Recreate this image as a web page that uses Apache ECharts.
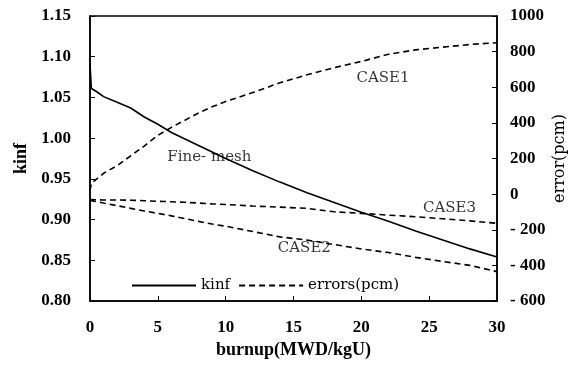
<!DOCTYPE html>
<html>
<head>
<meta charset="utf-8">
<script src="https://cdn.jsdelivr.net/npm/echarts@6/dist/echarts.min.js"></script>
<style>
  html, body { margin: 0; padding: 0; background: #fff; }
  #chart { width: 571px; height: 367px; }
</style>
</head>
<body>
<div id="chart"></div>
<script>
// burnup points (MWD/kgU)
const burnup = [0, 0.1, 0.5, 1, 2, 3, 4, 5, 6, 7, 8, 9, 10, 12, 14, 16, 18, 20, 22, 24, 26, 28, 30];
// fine-mesh kinf
const kinf = [1.092, 1.061, 1.057, 1.051, 1.044, 1.037, 1.026, 1.017, 1.007, 0.999, 0.991, 0.983, 0.975,
  0.960, 0.946, 0.933, 0.921, 0.909, 0.898, 0.886, 0.875, 0.864, 0.854];
// errors (pcm)
const case1 = [20, 60, 85, 117, 160, 215, 270, 330, 375, 415, 455, 490, 520,
  570, 625, 670, 710, 745, 785, 810, 825, 840, 850];
const case2 = [-35, -40, -42, -50, -65, -80, -95, -108, -122, -138, -153, -168, -180,
  -210, -240, -258, -283, -308, -328, -355, -378, -400, -435];
const case3 = [-30, -30, -32, -33, -33, -34, -37, -40, -43, -46, -50, -55, -58,
  -67, -73, -80, -99, -108, -118, -127, -138, -150, -164];
// curve labels: [burnup, value, text]
const errLabels = [[21.6, 652, "CASE1"], [26.5, -78, "CASE3"], [15.8, -302, "CASE2"]];
const kinfLabels = [[8.8, 0.977, "Fine- mesh"]];

const tickFont = "Liberation Serif";
const textFont = "DejaVu Serif";
const pair = (ys) => burnup.map((x, i) => [x, ys[i]]);

const chart = echarts.init(document.getElementById("chart"));

const errLine = (data) => ({
  name: "errors(pcm)",
  type: "line",
  yAxisIndex: 1,
  data: pair(data),
  symbol: "none",
  lineStyle: { color: "#000", width: 1.6, type: [6, 4] },
  itemStyle: { color: "#000" },
  silent: true,
});

const textSeries = (data, axis) => ({
  type: "scatter",
  yAxisIndex: axis,
  data: data,
  symbolSize: 0,
  silent: true,
  itemStyle: { color: "#000" },
  label: {
    show: true,
    position: "inside",
    formatter: (p) => p.data[2],
    fontFamily: textFont,
    fontSize: 15,
    color: "#000",
    textBorderWidth: 0,
  },
});

const option = {
  animation: false,
  backgroundColor: "#fff",
  grid: {
    left: 90, right: 74, top: 16, bottom: 66,
    outerBoundsMode: "none",
    show: true, borderColor: "#000", borderWidth: 1.5,
  },
  legend: {
    data: ["kinf", "errors(pcm)"],
    left: 131,
    top: 278,
    padding: 0,
    itemWidth: 64,
    itemHeight: 10,
    itemGap: 8,
    itemStyle: { opacity: 0 },
    textStyle: { fontFamily: textFont, fontSize: 15, color: "#000" },
  },
  xAxis: {
    type: "value",
    min: 0,
    max: 30,
    interval: 5,
    name: "burnup(MWD/kgU)",
    nameLocation: "middle",
    nameGap: 33,
    nameTextStyle: { fontFamily: tickFont, fontSize: 18, fontWeight: "bold", color: "#000" },
    axisLine: { onZero: false, lineStyle: { color: "#000", width: 1.5 } },
    axisTick: { inside: true, length: 5, lineStyle: { color: "#000" } },
    axisLabel: { margin: 18, fontFamily: tickFont, fontSize: 17, fontWeight: "bold", color: "#000" },
    splitLine: { show: false },
  },
  yAxis: [
    {
      type: "value",
      min: 0.8,
      max: 1.15,
      interval: 0.05,
      name: "kinf",
      nameLocation: "middle",
      nameRotate: 90,
      nameGap: 60,
      nameMoveOverlap: false,
      nameTextStyle: { fontFamily: tickFont, fontSize: 18, fontWeight: "bold", color: "#000" },
      axisLine: { show: true, lineStyle: { color: "#000", width: 1.5 } },
      axisTick: { show: true, inside: true, length: 5, lineStyle: { color: "#000" } },
      axisLabel: { margin: 19, fontFamily: tickFont, fontSize: 17, fontWeight: "bold", color: "#000",
        formatter: (v) => v.toFixed(2) },
      splitLine: { show: false },
    },
    {
      type: "value",
      min: -600,
      max: 1000,
      interval: 200,
      position: "right",
      name: "error(pcm)",
      nameLocation: "middle",
      nameRotate: 90,
      nameGap: 55,
      nameMoveOverlap: false,
      nameTextStyle: { fontFamily: textFont, fontSize: 16, color: "#000" },
      axisLine: { show: true, lineStyle: { color: "#000", width: 1.5 } },
      axisTick: { show: true, inside: true, length: 5, lineStyle: { color: "#000" } },
      axisLabel: { margin: 13, fontFamily: tickFont, fontSize: 17, fontWeight: "bold", color: "#000",
        formatter: (v) => (v < 0 ? "- " + Math.abs(v) : String(v)) },
      splitLine: { show: false },
    },
  ],
  series: [
    {
      name: "kinf",
      type: "line",
      yAxisIndex: 0,
      data: pair(kinf),
      symbol: "none",
      lineStyle: { color: "#000", width: 1.6 },
      itemStyle: { color: "#000" },
      silent: true,
    },
    errLine(case1),
    errLine(case2),
    errLine(case3),
    textSeries(errLabels, 1),
    textSeries(kinfLabels, 0),
  ],
};

chart.setOption(option);
</script>
</body>
</html>
